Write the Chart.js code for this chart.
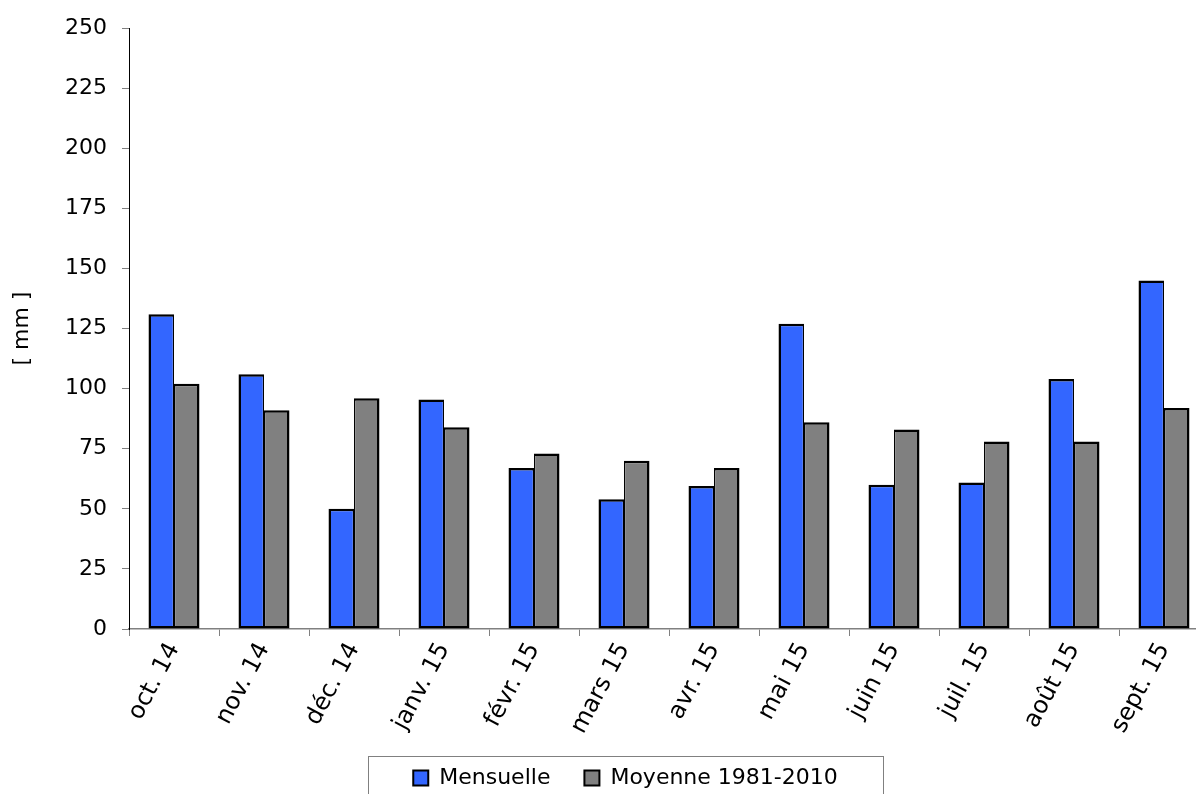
<!DOCTYPE html>
<html lang="fr">
<head>
<meta charset="UTF-8">
<title>Précipitations mensuelles</title>
<script src="https://cdn.jsdelivr.net/npm/chart.js"></script>
<style>
  html, body { margin: 0; padding: 0; background: #fff; overflow: hidden; }
  #wrap { position: absolute; left: 0; top: 0; width: 1219px; height: 799px; }
</style>
</head>
<body>
<div id="wrap"><canvas id="pluie"></canvas></div>
<script>
const mois = ['oct. 14', 'nov. 14', 'déc. 14', 'janv. 15', 'févr. 15', 'mars 15',
              'avr. 15', 'mai 15', 'juin 15', 'juil. 15', 'août 15', 'sept. 15'];
const mensuelle = [131, 106, 50, 95.5, 67, 54, 59.5, 127, 60, 61, 104, 145];
const moyenne = [102, 91, 96, 84, 73, 70, 67, 86, 83, 78, 78, 92];
const serieNoms = ['Mensuelle', 'Moyenne 1981-2010'];
const serieCouleurs = ['#3366ff', '#808080'];

const police = 'Verdana, "DejaVu Sans", sans-serif';

// cadre gris autour de la légende
const cadreLegende = {
  id: 'cadreLegende',
  afterDraw(chart) {
    const boxes = chart.legend.legendHitBoxes;
    if (!boxes || !boxes.length) return;
    const first = boxes[0], last = boxes[boxes.length - 1];
    const ctx = chart.ctx;
    ctx.save();
    ctx.strokeStyle = '#808080';
    ctx.lineWidth = 1;
    const x0 = Math.round(first.left - 45) + 0.5;
    const x1 = Math.round(last.left + last.width + 45) + 0.5;
    const y0 = Math.round(first.top - 11) + 0.5;
    ctx.strokeRect(x0, y0, x1 - x0, 60);
    ctx.restore();
  }
};

new Chart(document.getElementById('pluie'), {
  type: 'bar',
  data: {
    labels: mois,
    datasets: [{
      label: serieNoms[0],
      data: mensuelle,
      backgroundColor: serieCouleurs[0],
      borderColor: '#000',
      borderWidth: { left: 2.5, top: 2.5, right: 1.25, bottom: 2.5 },
      borderSkipped: false
    }, {
      label: serieNoms[1],
      data: moyenne,
      backgroundColor: serieCouleurs[1],
      borderColor: '#000',
      borderWidth: { left: 1.25, top: 2.5, right: 2.5, bottom: 2.5 },
      borderSkipped: false
    }]
  },
  options: {
    responsive: true,
    maintainAspectRatio: false,
    animation: false,
    categoryPercentage: 0.567,
    barPercentage: 1,
    layout: { padding: { left: 42, right: 10, top: 26, bottom: 0 } },
    plugins: {
      tooltip: { enabled: false },
      legend: {
        position: 'bottom',
        labels: {
          color: '#000',
          font: { family: police, size: 22 },
          boxWidth: 15,
          boxHeight: 15,
          padding: 34,
          generateLabels(chart) {
            return chart.data.datasets.map((ds, i) => ({
              text: ds.label,
              fillStyle: ds.backgroundColor,
              strokeStyle: '#000',
              lineWidth: 2,
              datasetIndex: i,
              hidden: false
            }));
          }
        }
      }
    },
    scales: {
      x: {
        grid: {
          drawOnChartArea: false,
          color: '#808080',
          tickLength: 7,
          offset: true
        },
        border: { color: '#808080', width: 1.5 },
        ticks: {
          color: '#000',
          font: { family: police, size: 24 },
          autoSkip: false,
          minRotation: 62,
          maxRotation: 62,
          padding: 2
        },
        afterFit(scale) { scale.height = 104; }
      },
      y: {
        min: 0,
        max: 250,
        ticks: {
          stepSize: 25,
          color: '#000',
          font: { family: police, size: 22 },
          padding: 15
        },
        grid: {
          drawOnChartArea: false,
          color: '#808080',
          tickLength: 7
        },
        border: { color: '#000', width: 1 },
        title: {
          display: true,
          text: '[ mm ]',
          color: '#000',
          font: { family: police, size: 22 },
          padding: { top: -33, bottom: 0 }
        },
        afterFit(scale) { scale.width = 87; }
      }
    }
  },
  plugins: [cadreLegende]
});
</script>
</body>
</html>
